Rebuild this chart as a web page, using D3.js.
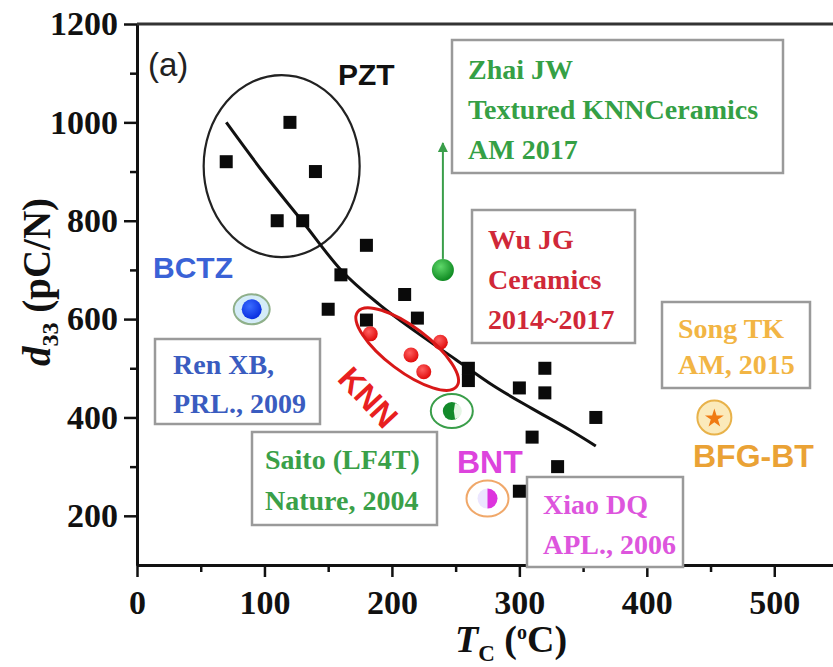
<!DOCTYPE html>
<html>
<head>
<meta charset="utf-8">
<script src="https://cdn.jsdelivr.net/npm/d3@7"></script>
<style>
  body { margin: 0; background: #fff; }
  .serif { font-family: "Liberation Serif", "Times New Roman", serif; font-weight: bold; }
  .sans { font-family: "Liberation Sans", Arial, sans-serif; font-weight: bold; }
</style>
</head>
<body>
<svg width="833" height="667"></svg>
<script>
// Data
var squareTc = [70, 120, 140, 110, 130, 180, 160, 150, 210, 180, 220, 260, 260, 300, 320, 320, 360, 310, 330, 300];
var squareD33 = [920, 1000, 900, 800, 800, 750, 690, 620, 650, 598, 602, 500, 475, 460, 500, 450, 400, 360, 300, 250];

var knnTc = [183, 215, 225, 238];
var knnD33 = [570, 527, 493, 553];

var fitTc = [70, 100, 130, 160, 190, 220, 250, 280, 310, 340, 360];
var fitD33 = [1000, 895, 798, 700, 630, 572, 518, 464, 418, 374, 342];

var materials = ["BCTZ", "Zhai", "Saito", "BNT", "BFG-BT"];
var materialTc = [90, 240, 247, 275, 453];
var materialD33 = [620, 700, 413, 235, 400];
var zhaiArrowTop = 958;

var xTicks = [0, 100, 200, 300, 400, 500];
var xMinor = [50, 150, 250, 350, 450];
var yTicks = [200, 400, 600, 800, 1000, 1200];
var yMinor = [300, 500, 700, 900, 1100];

var zhaiText = ["Zhai JW", "Textured KNNCeramics", "AM 2017"];
var wuText = ["Wu JG", "Ceramics", "2014~2017"];
var songText = ["Song TK", "AM, 2015"];
var renText = ["Ren XB,", "PRL., 2009"];
var saitoText = ["Saito (LF4T)", "Nature, 2004"];
var xiaoText = ["Xiao DQ", "APL., 2006"];

// The svg
var svg = d3.select("svg");

var x = d3.scaleLinear().domain([0, 550]).range([137, 838]);
var y = d3.scaleLinear().domain([100, 1200]).range([565, 24]);

// gradients for the shaded balls
var defs = svg.append("defs");
function ball(id, hi, lo) {
  var g = defs.append("radialGradient").attr("id", id)
    .attr("cx", "40%").attr("cy", "35%").attr("r", "65%");
  g.append("stop").attr("offset", "0%").attr("stop-color", hi);
  g.append("stop").attr("offset", "100%").attr("stop-color", lo);
}
ball("gBlue", "#3a6cff", "#0a2fe0");
ball("gGreen", "#5fd86a", "#0f8a22");
ball("gRed", "#ff6060", "#e00c0c");

defs.append("marker").attr("id", "arrow")
  .attr("viewBox", "0 0 10 10").attr("refX", 9).attr("refY", 5)
  .attr("markerWidth", 5).attr("markerHeight", 7).attr("orient", "auto")
  .append("path").attr("d", "M0,0L10,5L0,10Z").attr("fill", "#3a9e4a");

// Axes
var fmt = d3.format("d");
svg.append("g").attr("transform", "translate(" + x(0) + ",0)")
  .call(d3.axisLeft(y).tickValues(yTicks).tickSize(13).tickSizeOuter(0).tickPadding(6).tickFormat(fmt));
svg.append("g").attr("transform", "translate(" + x(0) + ",0)")
  .call(d3.axisLeft(y).tickValues(yMinor).tickSize(7).tickSizeOuter(0).tickFormat(""));
svg.append("g").attr("transform", "translate(0," + y(100) + ")")
  .call(d3.axisBottom(x).tickValues(xTicks).tickSize(12).tickSizeOuter(0).tickPadding(13).tickFormat(fmt));
svg.append("g").attr("transform", "translate(0," + y(100) + ")")
  .call(d3.axisBottom(x).tickValues(xMinor).tickSize(7).tickSizeOuter(0).tickFormat(""));

svg.selectAll(".domain").attr("stroke", "#111").attr("stroke-width", 3);
svg.selectAll(".tick line").attr("stroke", "#111").attr("stroke-width", 2.5);
svg.selectAll(".tick text").attr("class", "serif").attr("fill", "#111").style("font-size", "34px");

// frame top and right
svg.append("path")
  .attr("d", "M" + x(0) + "," + y(1200) + "H" + x(550) + "V" + y(100))
  .attr("fill", "none").attr("stroke", "#333").attr("stroke-width", 3);

// Axis titles
var yt = svg.append("text").attr("class", "serif").attr("fill", "#111")
  .attr("text-anchor", "middle").style("font-size", "39px")
  .attr("transform", "translate(50,282) rotate(-90)");
yt.append("tspan").style("font-style", "italic").text("d");
yt.append("tspan").attr("dy", 8).style("font-size", "24px").text("33");
yt.append("tspan").attr("dy", -8).text(" (pC/N)");

var xt = svg.append("text").attr("class", "serif").attr("fill", "#111")
  .attr("x", 455).attr("y", 652).style("font-size", "38px");
xt.append("tspan").style("font-style", "italic").text("T");
xt.append("tspan").attr("dy", 9).style("font-size", "23px").text("C");
xt.append("tspan").attr("dy", -9).text(" (");
xt.append("tspan").attr("dy", -13).style("font-size", "20px").text("o");
xt.append("tspan").attr("dy", 13).text("C)");

// Annotation boxes
function box(lines, bx, by, bw, bh, tx, ty, step, color) {
  svg.append("rect").attr("x", bx).attr("y", by).attr("width", bw).attr("height", bh)
    .attr("fill", "#fff").attr("stroke", "#9a9a9a").attr("stroke-width", 2.5);
  svg.append("g").selectAll("text").data(lines).enter().append("text")
    .attr("class", "serif").attr("fill", color).style("font-size", "28px")
    .attr("x", tx).attr("y", function (d, i) { return ty + i * step; })
    .text(function (d) { return d; });
}
box(zhaiText, 452, 40, 331, 133, 468, 79, 40, "#35a045");
box(wuText, 472, 210, 163, 133, 488, 249, 40, "#d02838");
box(songText, 662, 302, 148, 86, 678, 338, 36, "#f2b544");
box(renText, 155, 339, 165, 85, 173, 374, 39, "#3a5cc0");
box(saitoText, 252, 432, 185, 93, 265, 469, 41, "#3aa048");
box(xiaoText, 527, 477, 156, 90, 543, 514, 40, "#dd55dd");

// PZT group ellipse
svg.append("ellipse").attr("cx", x(113.5)).attr("cy", y(911)).attr("rx", 78).attr("ry", 91)
  .attr("fill", "none").attr("stroke", "#222").attr("stroke-width", 2.2);

// Fit line
var line = d3.line()
  .x(function (d, i) { return x(fitTc[i]); })
  .y(function (d, i) { return y(fitD33[i]); })
  .curve(d3.curveMonotoneX);
svg.append("path").datum(fitTc).attr("d", line)
  .attr("fill", "none").attr("stroke", "#111").attr("stroke-width", 3);

// Squares
svg.append("g").selectAll("rect").data(squareTc).enter().append("rect")
  .attr("x", function (d) { return x(d) - 6.5; })
  .attr("y", function (d, i) { return y(squareD33[i]) - 6.5; })
  .attr("width", 13).attr("height", 13).attr("fill", "#0a0a0a");

// KNN points and ellipse
svg.append("g").selectAll("circle").data(knnTc).enter().append("circle")
  .attr("cx", function (d) { return x(d); })
  .attr("cy", function (d, i) { return y(knnD33[i]); })
  .attr("r", 7.5).attr("fill", "url(#gRed)");
svg.append("ellipse").attr("rx", 62).attr("ry", 22)
  .attr("transform", "translate(" + x(212) + "," + y(539) + ") rotate(37)")
  .attr("fill", "none").attr("stroke", "#d81818").attr("stroke-width", 3);

// Material markers
var mx = function (i) { return x(materialTc[i]); };
var my = function (i) { return y(materialD33[i]); };

// BCTZ
svg.append("ellipse").attr("cx", mx(0)).attr("cy", my(0)).attr("rx", 18).attr("ry", 15)
  .attr("fill", "#d4ecf8").attr("stroke", "#8fb08a").attr("stroke-width", 2);
svg.append("circle").attr("cx", mx(0)).attr("cy", my(0)).attr("r", 10).attr("fill", "url(#gBlue)");

// Zhai textured KNN with arrow
svg.append("line").attr("x1", mx(1)).attr("x2", mx(1))
  .attr("y1", my(1) - 11).attr("y2", y(zhaiArrowTop))
  .attr("stroke", "#3a9e4a").attr("stroke-width", 2).attr("marker-end", "url(#arrow)");
svg.append("circle").attr("cx", mx(1)).attr("cy", my(1)).attr("r", 11).attr("fill", "url(#gGreen)");

// Saito
svg.append("ellipse").attr("cx", mx(2)).attr("cy", my(2)).attr("rx", 21).attr("ry", 17)
  .attr("fill", "#fff").attr("stroke", "#3a9e4a").attr("stroke-width", 2);
svg.append("circle").attr("cx", mx(2)).attr("cy", my(2)).attr("r", 9).attr("fill", "#128a2a");
svg.append("path")
  .attr("d", d3.arc()({ innerRadius: 0, outerRadius: 8, startAngle: 0.15, endAngle: Math.PI - 0.15 }))
  .attr("transform", "translate(" + (mx(2) + 2) + "," + my(2) + ")")
  .attr("fill", "#e4f6e4");

// BNT
svg.append("ellipse").attr("cx", mx(3)).attr("cy", my(3)).attr("rx", 21).attr("ry", 18)
  .attr("fill", "#fff").attr("stroke", "#f0a86a").attr("stroke-width", 2);
svg.append("circle").attr("cx", mx(3)).attr("cy", my(3)).attr("r", 10).attr("fill", "#ece6ff");
svg.append("path")
  .attr("d", d3.arc()({ innerRadius: 0, outerRadius: 10, startAngle: 0, endAngle: Math.PI }))
  .attr("transform", "translate(" + mx(3) + "," + my(3) + ")")
  .attr("fill", "#dd33dd");

// BFG-BT
svg.append("circle").attr("cx", mx(4)).attr("cy", my(4)).attr("r", 17)
  .attr("fill", "#fbeabb").attr("stroke", "#e8b24a").attr("stroke-width", 2);
svg.append("path").attr("d", d3.symbol(d3.symbolStar).size(110)())
  .attr("transform", "translate(" + mx(4) + "," + (my(4) + 1) + ")")
  .attr("fill", "#f07a12");

// Labels
function label(t, lx, ly, size, color, rot) {
  svg.append("text").attr("class", "sans").attr("fill", color).style("font-size", size + "px")
    .attr("transform", "translate(" + lx + "," + ly + ")" + (rot ? " rotate(" + rot + ")" : ""))
    .attr("text-anchor", rot ? "middle" : "start")
    .text(t);
}
svg.append("text").attr("x", 148).attr("y", 76).attr("fill", "#222")
  .style("font-family", "Liberation Sans, Arial, sans-serif").style("font-size", "33px").text("(a)");
label("PZT", 338, 85, 30, "#111");
label("BCTZ", 153, 278, 30, "#3a62d6");
label("KNN", 360, 405, 32, "#e82020", 47);
label("BNT", 457, 473, 32, "#dd44dd");
label("BFG-BT", 693, 467, 32, "#eaa235");
</script>
</body>
</html>
